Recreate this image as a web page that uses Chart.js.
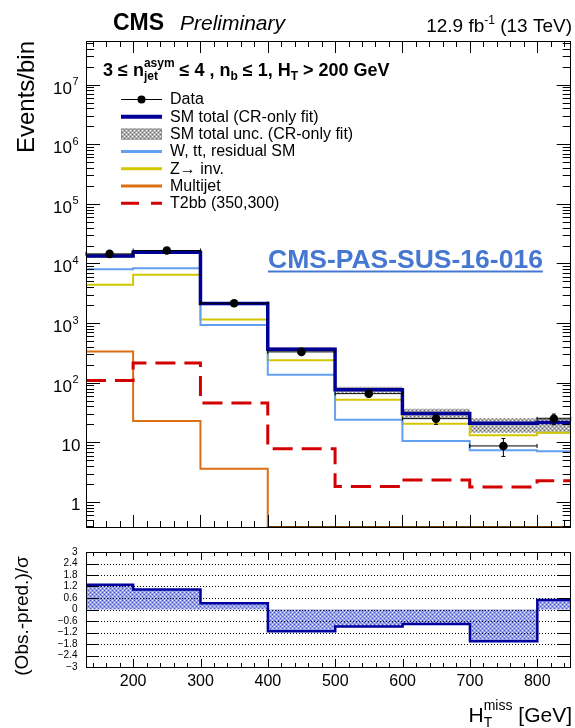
<!DOCTYPE html>
<html><head><meta charset="utf-8">
<script src="https://cdn.jsdelivr.net/npm/chart.js@4.4.1/dist/chart.umd.min.js"></script>
<style>
html,body{margin:0;padding:0;background:#fff;}
#wrap{position:relative;width:575px;height:728px;overflow:hidden;}
canvas{position:absolute;left:0;}
</style></head><body>
<div id="wrap">
<canvas id="cTop" width="575" height="540" style="top:0;width:575px;height:540px"></canvas>
<canvas id="cBot" width="575" height="188" style="top:540px;width:575px;height:188px"></canvas>
</div>
<script>
// ---------------- data ----------------
const binEdges   = [130, 200, 300, 400, 500, 600, 700, 800, 850];
const binCenters = [165, 250, 350, 450, 550, 650, 750, 825];
const dataObs    = [14500, 16500, 2150, 329, 65.6, 25, 8.7, 24.8];
const dataErr    = [120, 128, 46, 18, 8.1, 5, 2.9, 5];
const smTotal    = [13400, 15400, 2130, 365, 76, 30.5, 21, 21.5];
const smUncLow   = [12500, 14400, 1990, 335, 68, 25, 14.5, 14];
const smUncHigh  = [14300, 16400, 2270, 395, 86, 36.5, 25.4, 26.4];
const wttResidual= [8030, 8350, 926, 136, 23.9, 10.5, 7.36, 7.08];
const zInv       = [4420, 6480, 1150, 239, 52, 20.5, 13.1, 14.5];
const multijet   = [333, 22.7, 3.6, 0.001, 0.001, 0.001, 0.001, 0.001]; // ~0 above 400 GeV
const t2bb       = [109, 215, 45.9, 7.84, 1.82, 2.33, 1.78, 2.27];
const pull       = [1.29, 1.05, 0.33, -1.13, -0.89, -0.76, -1.66, 0.5];
const xTickLabels    = [200, 300, 400, 500, 600, 700, 800];
const yDecadeExps    = [0, 1, 2, 3, 4, 5, 6, 7];
const pullTickValues = [3, 2.4, 1.8, 1.2, 0.6, 0, -0.6, -1.2, -1.8, -2.4, -3];
const pullTickLabels = ['3','2.4','1.8','1.2','0.6','0','\u22120.6','\u22121.2','\u22121.8','\u22122.4','\u22123'];
const legendLabels = ['Data','SM total (CR-only fit)','SM total unc. (CR-only fit)','W, tt, residual SM','Z\u2192 inv.','Multijet','T2bb (350,300)'];

// ---------------- style ----------------
const FF = '"Liberation Sans", Arial, Helvetica, sans-serif';
const C_SM = 'rgb(0,0,150)', C_WTT = 'rgb(100,160,240)', C_Z = 'rgb(210,200,0)',
      C_MJ = 'rgb(220,110,20)', C_T2 = 'rgb(210,0,0)', C_PULL = 'rgb(0,0,160)';

function makePattern(base, d1, d2) {
  const c = document.createElement('canvas'); c.width = 4; c.height = 4;
  const g = c.getContext('2d');
  g.fillStyle = base; g.fillRect(0,0,4,4);
  g.fillStyle = d1; g.fillRect(0,0,1,1); g.fillRect(2,2,1,1);
  g.fillStyle = d2; g.fillRect(2,0,1,1); g.fillRect(0,2,1,1);
  return g.createPattern(c, 'repeat');
}
const greyPat = makePattern('#b0b0b0', '#ffffff', '#707070');
const bluePat = makePattern('rgb(150,160,230)', '#e8ecff', 'rgb(80,90,200)');

function stepPts(vals) {
  return binEdges.map((e, i) => ({x: e, y: vals[Math.min(i, vals.length - 1)]}));
}
function line(ctx, x1, y1, x2, y2) { ctx.beginPath(); ctx.moveTo(x1, y1); ctx.lineTo(x2, y2); ctx.stroke(); }

// rich text: parts {t,s,st,dy,keep}
function richWidth(ctx, parts) {
  let w = 0, kept = 0;
  for (const p of parts) {
    ctx.font = (p.st || '') + p.s + 'px ' + FF;
    const mw = ctx.measureText(p.t).width;
    if (p.keep) { kept = mw; continue; }
    w += Math.max(mw, kept); kept = 0;
  }
  return w;
}
function rich(ctx, x, y, parts, align) {
  let cx = x;
  if (align === 'right') cx = x - richWidth(ctx, parts);
  let kept = 0;
  ctx.textAlign = 'left'; ctx.textBaseline = 'alphabetic';
  for (const p of parts) {
    ctx.font = (p.st || '') + p.s + 'px ' + FF;
    ctx.fillText(p.t, cx, y + (p.dy || 0));
    const mw = ctx.measureText(p.t).width;
    if (p.keep) { kept = mw; continue; }
    cx += Math.max(mw, kept); kept = 0;
  }
}

const DATA_IDX = 0;
const topDeco = {
  id: 'topDeco',
  beforeDatasetDraw(chart, args) {
    if (args.index !== DATA_IDX) return;
    const ctx = chart.ctx, xs = chart.scales.x, ys = chart.scales.y;
    ctx.save(); ctx.strokeStyle = '#000'; ctx.lineWidth = 1;
    for (let i = 0; i < dataObs.length; i++) {
      const py = ys.getPixelForValue(dataObs[i]);
      const xl = xs.getPixelForValue(binEdges[i]), xr = xs.getPixelForValue(binEdges[i + 1]);
      const px = xs.getPixelForValue(binCenters[i]);
      const y1 = ys.getPixelForValue(dataObs[i] + dataErr[i]), y2 = ys.getPixelForValue(dataObs[i] - dataErr[i]);
      line(ctx, xl, py, xr, py);
      line(ctx, xl, py - 2, xl, py + 2); line(ctx, xr, py - 2, xr, py + 2);
      line(ctx, px, y1, px, y2);
      line(ctx, px - 2, y1, px + 2, y1); line(ctx, px - 2, y2, px + 2, y2);
    }
    ctx.restore();
  },
  afterDraw(chart) {
    const ctx = chart.ctx, a = chart.chartArea, xs = chart.scales.x, ys = chart.scales.y;
    ctx.save();
    ctx.strokeStyle = '#000'; ctx.lineWidth = 1; ctx.setLineDash([]);
    // zero multijet contribution lies on the axis
    ctx.save(); ctx.strokeStyle = 'rgb(110,60,10)'; ctx.lineWidth = 2;
    line(ctx, xs.getPixelForValue(binEdges[3]), a.bottom, a.right, a.bottom); ctx.restore();
    // x ticks
    for (let v = 140; v <= 840; v += 20) {
      const px = Math.round(xs.getPixelForValue(v)) + 0.5, L = (v % 100 === 0) ? 12 : 6;
      line(ctx, px, a.bottom, px, a.bottom - L); line(ctx, px, a.top, px, a.top + L);
    }
    // y ticks (log)
    for (let e = -1; e <= 7; e++) for (let m = 1; m <= 9; m++) {
      const v = m * Math.pow(10, e);
      if (v < ys.min || v > ys.max) continue;
      const py = Math.round(ys.getPixelForValue(v)) + 0.5, L = (m === 1) ? 14 : 8;
      line(ctx, a.left, py, a.left + L, py); line(ctx, a.right, py, a.right - L, py);
    }
    ctx.strokeRect(Math.round(a.left) + 0.5, Math.round(a.top) + 0.5, Math.round(a.right - a.left) - 1, Math.round(a.bottom - a.top));
    // y tick labels
    ctx.fillStyle = '#000';
    for (const e of yDecadeExps) {
      const py = ys.getPixelForValue(Math.pow(10, e));
      if (e === 0 || e === 1) {
        ctx.font = '17px ' + FF; ctx.textAlign = 'right'; ctx.textBaseline = 'alphabetic';
        ctx.fillText(e === 0 ? '1' : '10', 80.5, py + 8.5);
      } else {
        ctx.font = '11px ' + FF; ctx.textAlign = 'right'; ctx.textBaseline = 'alphabetic';
        const s = String(e); const sw = ctx.measureText(s).width;
        ctx.fillText(s, 78.5, py + 0.5);
        ctx.font = '17px ' + FF;
        ctx.fillText('10', 78.5 - sw - 0.5, py + 9);
      }
    }
    // axis title
    ctx.save(); ctx.translate(27, 41); ctx.rotate(-Math.PI / 2);
    ctx.font = '24px ' + FF; ctx.textAlign = 'right'; ctx.textBaseline = 'middle';
    ctx.fillText('Events/bin', 0, 0); ctx.restore();
    // headers
    ctx.textAlign = 'left'; ctx.textBaseline = 'alphabetic';
    ctx.font = 'bold 23px ' + FF; ctx.fillText('CMS', 113, 30);
    ctx.font = 'italic 21px ' + FF; ctx.fillText('Preliminary', 180, 30);
    rich(ctx, 572, 31.5, [
      {t: '12.9 fb', s: 19}, {t: '-1', s: 12, dy: -8}, {t: ' (13 TeV)', s: 19}
    ], 'right');
    rich(ctx, 103, 76, [
      {t: '3 \u2264 n', s: 18, st: 'bold '},
      {t: 'asym', s: 12, st: 'bold ', dy: -9, keep: true},
      {t: 'jet', s: 12, st: 'bold ', dy: 4},
      {t: ' \u2264 4 , n', s: 18, st: 'bold '},
      {t: 'b', s: 12, st: 'bold ', dy: 4},
      {t: ' \u2264 1, H', s: 18, st: 'bold '},
      {t: 'T', s: 12, st: 'bold ', dy: 4},
      {t: ' > 200 GeV', s: 18, st: 'bold '}
    ]);
    // legend
    const ly0 = 99.5, ldy = 17.3, lx0 = 121, lx1 = 162, ltx = 170;
    for (let i = 0; i < legendLabels.length; i++) {
      const cy = ly0 + i * ldy;
      ctx.save();
      if (i === 0) {
        ctx.strokeStyle = '#000'; ctx.lineWidth = 1; line(ctx, lx0, cy, lx1, cy);
        ctx.fillStyle = '#000'; ctx.beginPath(); ctx.arc((lx0 + lx1) / 2, cy, 4, 0, Math.PI * 2); ctx.fill();
      } else if (i === 2) {
        ctx.fillStyle = greyPat; ctx.fillRect(lx0, cy - 5.5, lx1 - lx0, 11);
        ctx.strokeStyle = '#909090'; ctx.lineWidth = 1; ctx.strokeRect(lx0 + 0.5, cy - 5, lx1 - lx0 - 1, 10);
      } else {
        const cols = {1: C_SM, 3: C_WTT, 4: C_Z, 5: C_MJ, 6: C_T2};
        ctx.strokeStyle = cols[i]; ctx.lineWidth = (i === 1) ? 4 : 3;
        if (i === 6) ctx.setLineDash([18, 12]);
        line(ctx, lx0, cy, lx1, cy);
      }
      ctx.restore();
      ctx.fillStyle = '#000'; ctx.font = '16px ' + FF; ctx.textAlign = 'left'; ctx.textBaseline = 'middle';
      ctx.fillText(legendLabels[i], ltx, cy + 0.5);
    }
    // PAS label
    ctx.font = 'bold 26.5px ' + FF; ctx.fillStyle = 'rgb(70,120,210)'; ctx.textBaseline = 'alphabetic';
    ctx.textAlign = 'left';
    const pas = 'CMS-PAS-SUS-16-016';
    const pw = ctx.measureText(pas).width;
    ctx.fillText(pas, 268, 267.5);
    ctx.fillRect(268, 270.5, pw, 2);
    ctx.restore();
  }
};

const botDeco = {
  id: 'botDeco',
  afterDatasetsDraw(chart) {
    const ctx = chart.ctx, a = chart.chartArea, ys = chart.scales.y;
    ctx.save(); ctx.strokeStyle = '#000'; ctx.lineWidth = 1; ctx.setLineDash([1, 2]);
    for (const v of pullTickValues) {
      if (Math.abs(v) >= 3) continue;
      const py = Math.round(ys.getPixelForValue(v)) + 0.5;
      line(ctx, a.left, py, a.right, py);
    }
    ctx.restore();
  },
  afterDraw(chart) {
    const ctx = chart.ctx, a = chart.chartArea, xs = chart.scales.x, ys = chart.scales.y;
    ctx.save(); ctx.strokeStyle = '#000'; ctx.lineWidth = 1; ctx.setLineDash([]);
    for (let v = 140; v <= 840; v += 20) {
      const px = Math.round(xs.getPixelForValue(v)) + 0.5, L = (v % 100 === 0) ? 8 : 4;
      line(ctx, px, a.bottom, px, a.bottom - L); line(ctx, px, a.top, px, a.top + L);
    }
    for (const v of pullTickValues) {
      const py = Math.round(ys.getPixelForValue(v)) + 0.5;
      line(ctx, a.left, py, a.left + 13, py); line(ctx, a.right, py, a.right - 13, py);
    }
    ctx.strokeRect(Math.round(a.left) + 0.5, Math.round(a.top) + 0.5, Math.round(a.right - a.left) - 1, Math.round(a.bottom - a.top));
    ctx.fillStyle = '#000';
    ctx.font = '10px ' + FF; ctx.textAlign = 'right'; ctx.textBaseline = 'middle';
    pullTickValues.forEach((v, i) => ctx.fillText(pullTickLabels[i], 77.5, ys.getPixelForValue(v)));
    ctx.font = '16px ' + FF; ctx.textAlign = 'center'; ctx.textBaseline = 'alphabetic';
    for (const v of xTickLabels) ctx.fillText(String(v), xs.getPixelForValue(v), 145.5);
    // y title
    ctx.save(); ctx.translate(23, 76); ctx.rotate(-Math.PI / 2);
    ctx.font = '19px ' + FF; ctx.textAlign = 'center'; ctx.textBaseline = 'middle';
    ctx.fillText('(Obs.-pred.)/\u03c3', 0, 0); ctx.restore();
    // x title
    rich(ctx, 572, 182, [
      {t: 'H', s: 21},
      {t: 'miss', s: 14, dy: -12, keep: true},
      {t: 'T', s: 14, dy: 5},
      {t: ' [GeV]', s: 21}
    ], 'right');
    ctx.restore();
  }
};

const lineDs = (vals, color, width, order, extra) => Object.assign({
  data: stepPts(vals), borderColor: color, borderWidth: width, stepped: 'before',
  pointRadius: 0, pointHitRadius: 0, fill: false, order: order, tension: 0
}, extra || {});

new Chart(document.getElementById('cTop'), {
  type: 'line',
  data: {
    datasets: [
      {data: binCenters.map((x, i) => ({x: x, y: dataObs[i]})), showLine: false,
       pointRadius: 4.3, pointBackgroundColor: '#000', pointBorderColor: '#000', pointBorderWidth: 0, order: 0},
      lineDs(smTotal, C_SM, 3.5, 1),
      lineDs(smUncLow, 'rgba(0,0,0,0)', 0, 6),
      lineDs(smUncHigh, 'rgba(0,0,0,0)', 0, 5, {fill: '-1', backgroundColor: greyPat}),
      lineDs(wttResidual, C_WTT, 2, 3),
      lineDs(zInv, C_Z, 2, 3),
      lineDs(multijet, C_MJ, 2, 4),
      lineDs(t2bb, C_T2, 3, 2, {borderDash: [20, 9]})
    ]
  },
  options: {
    responsive: false, maintainAspectRatio: false, animation: false, events: [],
    layout: {padding: {left: 86, right: 4, top: 41, bottom: 13}},
    plugins: {legend: {display: false}, tooltip: {enabled: false}},
    scales: {
      x: {type: 'linear', min: 130, max: 850, display: false},
      y: {type: 'logarithmic', min: 0.38, max: 5.4e7, display: false}
    }
  },
  plugins: [topDeco]
});

new Chart(document.getElementById('cBot'), {
  type: 'line',
  data: {
    datasets: [
      lineDs(pull, C_PULL, 2.5, 0, {fill: 'origin', backgroundColor: bluePat})
    ]
  },
  options: {
    responsive: false, maintainAspectRatio: false, animation: false, events: [],
    layout: {padding: {left: 86, right: 4, top: 12, bottom: 61}},
    plugins: {legend: {display: false}, tooltip: {enabled: false}},
    scales: {
      x: {type: 'linear', min: 130, max: 850, display: false},
      y: {type: 'linear', min: -3, max: 3, display: false}
    }
  },
  plugins: [botDeco]
});
</script>
</body></html>
